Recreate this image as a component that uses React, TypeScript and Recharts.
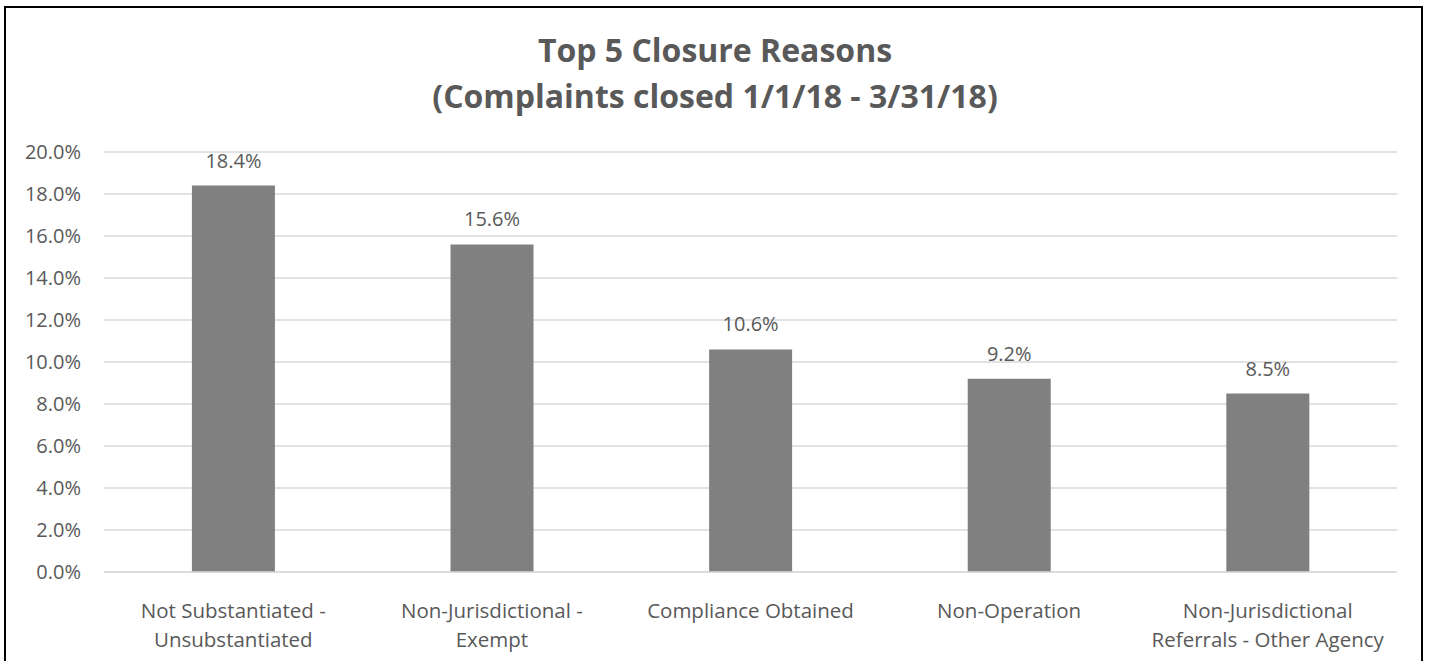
import React from 'react';
import { BarChart, Bar, XAxis, YAxis, CartesianGrid, LabelList } from 'recharts';

// category labels, already split into the two lines shown under the axis
const categoryLines: string[][] = [
    ['Not Substantiated -', 'Unsubstantiated'],
    ['Non-Jurisdictional -', 'Exempt'],
    ['Compliance Obtained'],
    ['Non-Operation'],
    ['Non-Jurisdictional', 'Referrals - Other Agency'],
];
const shareValues = [18.4, 15.6, 10.6, 9.2, 8.5];
const yTicks = [0, 2, 4, 6, 8, 10, 12, 14, 16, 18, 20];
const titleLines = ['Top 5 Closure Reasons', '(Complaints closed 1/1/18 - 3/31/18)'];

const categories = categoryLines.map((l) => l.join(' '));
const chartData = categories.map((name, i) => ({ name, value: shareValues[i] }));

const FONT = '"Open Sans", sans-serif';
const TEXT = '#595959';

const CategoryTick = (props: any) => {
    const { x, y, payload } = props;
    const idx = categories.indexOf(payload.value);
    const lines = idx >= 0 ? categoryLines[idx] : [String(payload.value)];
    return (
        <g transform={`translate(${x},${y})`}>
            {lines.map((line, i) => (
                <text key={i} x={0} y={38 + i * 29} textAnchor="middle" fill={TEXT} fontSize={20.5} fontFamily={FONT}>
                    {line}
                </text>
            ))}
        </g>
    );
};

export default function App() {
    return (
        <div style={{ position: 'absolute', left: 0, top: 0, width: 1432, height: 661, background: '#fff' }}>
            <div style={{ position: 'absolute', left: 4, top: 6, width: 1419, height: 660, border: '2px solid #000', boxSizing: 'border-box' }} />
            <svg width={1432} height={130} style={{ position: 'absolute', left: 0, top: 0 }}>
                {titleLines.map((t, i) => (
                    <text key={i} x={715} y={62 + i * 46} textAnchor="middle" fill={TEXT} fontSize={32} fontWeight="bold" fontFamily={FONT}>
                        {t}
                    </text>
                ))}
            </svg>
            <div style={{ position: 'absolute', left: 0, top: 0 }}>
                <BarChart width={1432} height={661} data={chartData} margin={{ top: 152, right: 35, bottom: 0, left: 0 }} barCategoryGap="34%">
                    <CartesianGrid vertical={false} stroke="#d9d9d9" strokeWidth={1.5} />
                    <XAxis dataKey="name" height={89} axisLine={{ stroke: '#d9d9d9', strokeWidth: 1.5 }} tickLine={false} tick={<CategoryTick />} interval={0} />
                    <YAxis
                        width={104}
                        domain={[0, 20]}
                        ticks={yTicks}
                        axisLine={false}
                        tickLine={false}
                        tickSize={0}
                        tickMargin={23}
                        tickFormatter={(v: number) => v.toFixed(1) + '%'}
                        tick={{ fill: TEXT, fontSize: 20, fontFamily: FONT }}
                    />
                    <Bar dataKey="value" fill="#808080" isAnimationActive={false}>
                        <LabelList
                            dataKey="value"
                            position="top"
                            offset={18}
                            formatter={(v: any) => Number(v).toFixed(1) + '%'}
                            style={{ fill: TEXT, fontSize: 20, fontFamily: FONT }}
                        />
                    </Bar>
                </BarChart>
            </div>
        </div>
    );
}
